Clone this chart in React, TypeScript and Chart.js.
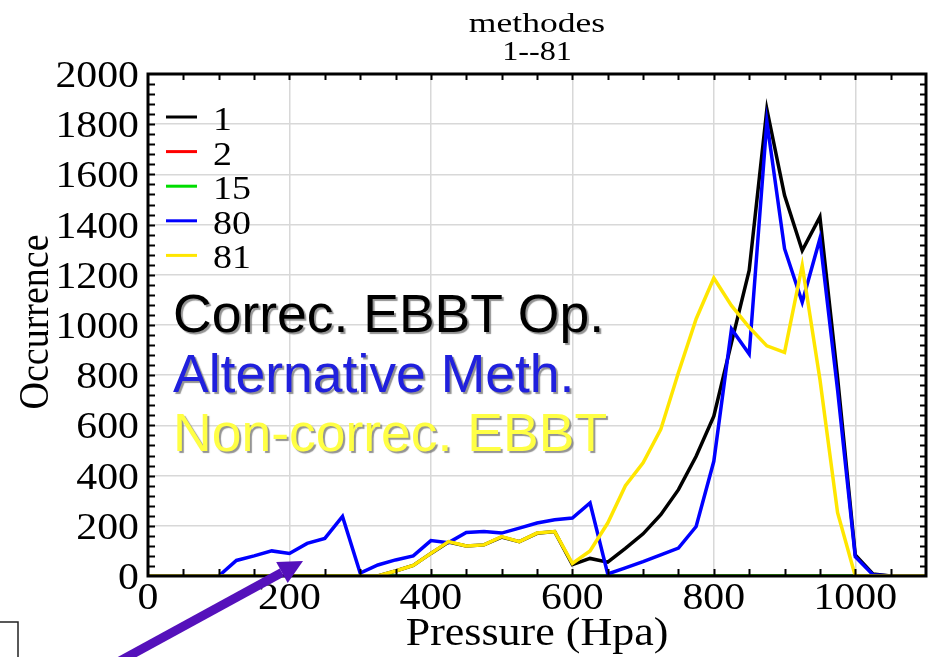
import React, { useEffect, useRef } from "react";
import { Chart, registerables } from "chart.js";

Chart.register(...registerables);

// Pressure levels (hPa) shared by every series
const pressure = [
  0, 25, 50, 75, 100, 125, 150, 175, 200, 225, 250, 275, 300, 325, 350, 375,
  400, 425, 450, 475, 500, 525, 550, 575, 600, 625, 650, 675, 700, 725, 750,
  775, 800, 825, 850, 875, 900, 925, 950, 975, 1000, 1025, 1050, 1075, 1100,
];

// Occurrence counts per method
const method1 = [
  0, 0, 0, 0, 0, 0, 0, 0, 0, 0, 0, 0, 0, 0, 20, 42,
  90, 135, 120, 124, 155, 137, 170, 177, 45, 70, 55, 110, 168, 244, 344,
  477, 637, 930, 1217, 1860, 1517, 1297, 1431, 790, 84, 8, 0, 0, 0,
];
const method2 = [
  0, 0, 0, 0, 0, 0, 0, 0, 0, 0, 0, 0, 0, 0, 0, 0,
  0, 0, 0, 0, 0, 0, 0, 0, 0, 0, 0, 0, 0, 0, 0,
  0, 0, 0, 0, 0, 0, 0, 0, 0, 0, 0, 0, 0, 0,
];
const method15 = [
  0, 0, 0, 0, 0, 0, 0, 0, 0, 0, 0, 0, 0, 0, 0, 0,
  0, 0, 0, 0, 0, 0, 0, 0, 0, 0, 0, 0, 0, 0, 0,
  0, 0, 0, 0, 0, 0, 0, 0, 0, 0, 0, 0, 0, 0,
];
const method80 = [
  0, 0, 0, 0, 0, 62, 80, 100, 90, 130, 150, 237, 12, 44, 64, 80,
  141, 133, 173, 177, 171, 191, 211, 224, 231, 291, 8, 32, 57, 84, 111,
  197, 457, 984, 884, 1810, 1304, 1091, 1344, 741, 77, 5, 0, 0, 0,
];
const method81 = [
  0, 0, 0, 0, 0, 0, 0, 0, 0, 0, 0, 0, 0, 0, 20, 42,
  90, 137, 120, 124, 157, 137, 171, 177, 50, 100, 211, 360, 451, 584, 811,
  1024, 1187, 1077, 991, 917, 891, 1237, 784, 252, 0, 0, 0, 0, 0,
];

const seriesLabels = ["1", "2", "15", "80", "81"];
const seriesColors = ["#000000", "#ff0000", "#00dd00", "#0000ff", "#ffe600"];
// lower order is painted on top
const seriesOrder = [4, 3, 2, 1, 0];

const xTickLabels = [0, 200, 400, 600, 800, 1000];
const yTickLabels = [0, 200, 400, 600, 800, 1000, 1200, 1400, 1600, 1800, 2000];

const titleLines = ["methodes", "1--81"];
const xTitle = "Pressure (Hpa)";
const yTitle = "Occurrence";
const notes = [
  { text: "Correc. EBBT Op.", color: "#000000" },
  { text: "Alternative Meth.", color: "#2020dd" },
  { text: "Non-correc. EBBT", color: "#ffff44" },
];

const SERIF = '"Liberation Serif", "Times New Roman", serif';
const SANS = '"Liberation Sans", Arial, sans-serif';

function stretchedText(
  ctx: CanvasRenderingContext2D,
  text: string,
  x: number,
  y: number,
  font: string,
  align: CanvasTextAlign,
  k: number
) {
  ctx.save();
  ctx.translate(x, y);
  ctx.scale(k, 1);
  ctx.font = font;
  ctx.textAlign = align;
  ctx.textBaseline = "alphabetic";
  ctx.fillStyle = "#000";
  ctx.fillText(text, 0, 0);
  ctx.restore();
}

const framePlugin = {
  id: "frameAndLabels",
  afterDatasetsDraw(chart: any) {
    const { ctx, chartArea: a, scales } = chart;
    const xs = scales.x;
    const ys = scales.y;
    ctx.save();
    ctx.strokeStyle = "#000";
    ctx.lineWidth = 2;
    ctx.beginPath();
    for (let v = 50; v < 1100; v += 50) {
      const px = Math.round(xs.getPixelForValue(v)) + 0.5;
      ctx.moveTo(px, a.bottom);
      ctx.lineTo(px, a.bottom - 7);
      ctx.moveTo(px, a.top);
      ctx.lineTo(px, a.top + 6);
    }
    for (let v = 40; v < 2000; v += 40) {
      const py = Math.round(ys.getPixelForValue(v)) + 0.5;
      ctx.moveTo(a.left, py);
      ctx.lineTo(a.left + 7, py);
      ctx.moveTo(a.right, py);
      ctx.lineTo(a.right - 6, py);
    }
    ctx.stroke();
    ctx.lineWidth = 3;
    ctx.strokeRect(a.left, a.top, a.right - a.left, a.bottom - a.top);
    ctx.restore();
  },
  afterDraw(chart: any) {
    const { ctx, chartArea: a, scales } = chart;
    const xs = scales.x;
    const ys = scales.y;
    const cx = (a.left + a.right) / 2;

    // tick labels
    xTickLabels.forEach((v) => {
      stretchedText(ctx, String(v), xs.getPixelForValue(v), a.bottom + 33, `38px ${SERIF}`, "center", 1.1);
    });
    yTickLabels.forEach((v) => {
      stretchedText(ctx, String(v), a.left - 9, ys.getPixelForValue(v) + 13, `38px ${SERIF}`, "right", 1.1);
    });

    // titles
    stretchedText(ctx, titleLines[0], cx, 32, `28px ${SERIF}`, "center", 1.27);
    stretchedText(ctx, titleLines[1], cx, 60, `28px ${SERIF}`, "center", 1.15);
    stretchedText(ctx, xTitle, cx, 645, `40px ${SERIF}`, "center", 1.1);

    ctx.save();
    ctx.translate(a.left - 100, (a.top + a.bottom) / 2 - 3);
    ctx.rotate(-Math.PI / 2);
    ctx.scale(1, 1.1);
    ctx.font = `38px ${SERIF}`;
    ctx.textAlign = "center";
    ctx.fillStyle = "#000";
    ctx.fillText(yTitle, 0, 0);
    ctx.restore();

    // in-plot legend
    chart.data.datasets.forEach((ds: any, i: number) => {
      const ly = a.top + 43 + i * 34.6;
      ctx.save();
      ctx.strokeStyle = ds.borderColor;
      ctx.lineWidth = 3;
      ctx.beginPath();
      ctx.moveTo(a.left + 18, ly);
      ctx.lineTo(a.left + 49, ly);
      ctx.stroke();
      ctx.restore();
      stretchedText(ctx, ds.label, a.left + 65, ly + 13, `33px ${SERIF}`, "left", 1.15);
    });

    // method annotations
    notes.forEach((n, i) => {
      ctx.save();
      ctx.font = `53.5px ${SANS}`;
      ctx.textAlign = "left";
      ctx.shadowColor = "rgba(120,120,120,0.8)";
      ctx.shadowOffsetX = 2;
      ctx.shadowOffsetY = 2;
      ctx.shadowBlur = 1;
      ctx.fillStyle = n.color;
      ctx.fillText(n.text, a.left + 25, 332 + i * 59.5);
      ctx.restore();
    });

    // pointer arrow
    ctx.save();
    const tipX = 303;
    const tipY = 561;
    const tailX = 118;
    const tailY = 662;
    const ang = Math.atan2(tipY - tailY, tipX - tailX);
    const headLen = 24;
    const headHalf = 12;
    const bx = tipX - headLen * Math.cos(ang);
    const by = tipY - headLen * Math.sin(ang);
    ctx.strokeStyle = "#5511bb";
    ctx.fillStyle = "#5511bb";
    ctx.lineWidth = 9;
    ctx.beginPath();
    ctx.moveTo(tailX, tailY);
    ctx.lineTo(bx, by);
    ctx.stroke();
    ctx.beginPath();
    ctx.moveTo(tipX, tipY);
    ctx.lineTo(bx + headHalf * Math.sin(ang), by - headHalf * Math.cos(ang));
    ctx.lineTo(bx - headHalf * Math.sin(ang), by + headHalf * Math.cos(ang));
    ctx.closePath();
    ctx.fill();
    ctx.restore();

    // partial box in the corner
    ctx.save();
    ctx.strokeStyle = "#222";
    ctx.lineWidth = 1.5;
    ctx.strokeRect(-5, 622, 23, 60);
    ctx.restore();
  },
};

export default function App() {
  const canvasRef = useRef<HTMLCanvasElement | null>(null);

  useEffect(() => {
    if (!canvasRef.current) return;
    const series = [method1, method2, method15, method80, method81];
    const chart = new Chart(canvasRef.current, {
      type: "line",
      data: {
        datasets: series.map((vals, i) => ({
          label: seriesLabels[i],
          data: pressure.map((p, j) => ({ x: p, y: vals[j] })),
          borderColor: seriesColors[i],
          backgroundColor: seriesColors[i],
          borderWidth: 3.5,
          pointRadius: 0,
          tension: 0,
          fill: false,
          order: seriesOrder[i],
        })),
      },
      options: {
        responsive: false,
        devicePixelRatio: 1,
        animation: false,
        layout: { padding: { left: 148, top: 74, right: 2, bottom: 81 } },
        plugins: {
          legend: { display: false },
          tooltip: { enabled: false },
          title: { display: false },
        },
        scales: {
          x: {
            type: "linear",
            min: 0,
            max: 1100,
            ticks: { display: false, stepSize: 200, includeBounds: false },
            grid: { color: "#d8d8d8", lineWidth: 1.5, drawTicks: false },
            border: { display: false },
          },
          y: {
            type: "linear",
            min: 0,
            max: 2000,
            ticks: { display: false, stepSize: 200 },
            grid: { color: "#d8d8d8", lineWidth: 1.5, drawTicks: false },
            border: { display: false },
          },
        },
      },
      plugins: [framePlugin],
    });
    return () => chart.destroy();
  }, []);

  return (
    <div style={{ position: "fixed", left: 0, top: 0, width: 928, height: 657, background: "#ffffff" }}>
      <canvas ref={canvasRef} width={928} height={657} />
    </div>
  );
}
